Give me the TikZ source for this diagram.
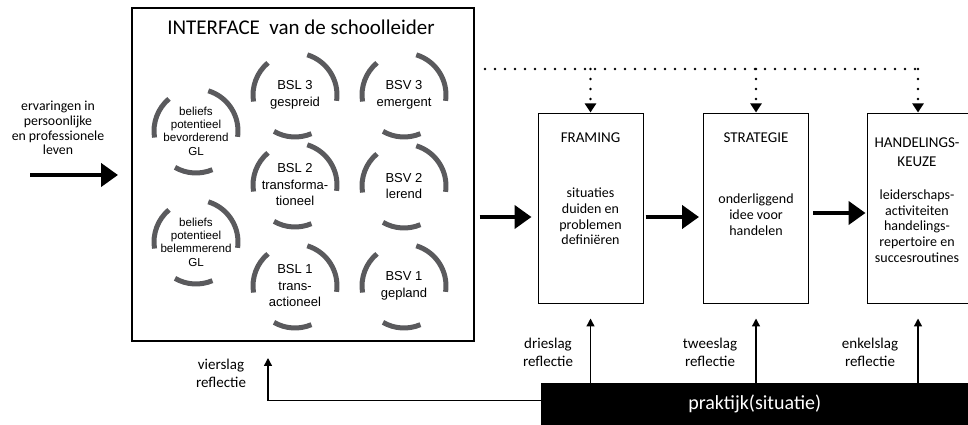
\documentclass[tikz,border=0pt]{standalone}
\usepackage{fontspec}
\setmainfont{Carlito}
\newfontfamily\arialf{Liberation Sans}
\usetikzlibrary{arrows.meta}
\definecolor{ringgray}{HTML}{5A5A5D}
\newcommand\ringarcs[1]{%
  \foreach \a/\b in {-8/73,130/189,240/293}{%
    \draw[ring] (#1.center) ++(\a:42) arc[start angle=\a,end angle=\b,radius=42];}}
\begin{document}
\begin{tikzpicture}[x=1pt,y=1pt,
  ring/.style={line width=5pt, draw=ringgray},
  circ/.style={circle, inner sep=0pt, minimum size=84pt, align=center},
  bigtext/.style={font=\arialf\fontsize{13}{16.5}\selectfont},
  smalltext/.style={font=\arialf\fontsize{11.6}{13.3}\selectfont},
  pbox/.style={draw, line width=1pt, minimum width=105pt, minimum height=190pt, inner sep=0pt},
  btitle/.style={font=\fontsize{15}{19}\selectfont, align=center},
  bbody/.style={font=\fontsize{14}{15.7}\selectfont, align=center},
  lab/.style={font=\fontsize{15}{18.5}\selectfont, align=center},
  big/.style={line width=4.5pt, -{Triangle[length=17pt,width=23pt]}},
  dots/.style={line width=2.6pt, line cap=round, dash pattern=on 0pt off 10pt},
  thinarrow/.style={line width=1.4pt, -{Triangle[length=8pt,width=8pt]}}
]
\useasboundingbox (0,0) rectangle (968,425);
\clip (0,0) rectangle (968,425);

% left input
\node[font=\fontsize{13.8}{14.7}\selectfont, align=center] (inp) at (58,297)
  {ervaringen in\\persoonlijke\\en professionele\\leven};

% interface box
\node[draw, line width=1.6pt, minimum width=342pt, minimum height=333pt,
  anchor=north west, inner sep=0pt] (iface) at (131,418) {};
\node[font=\fontsize{21}{24}\selectfont] (title) at (301,398) {INTERFACE\ \ van de schoolleider};

\node[circ, smalltext] (c1) at (196,294) {beliefs\\potentieel\\bevorderend\\GL};
\node[circ, smalltext] (c2) at (196,183) {beliefs\\potentieel\\belemmerend\\GL};
\node[circ, bigtext] (c3) at (295,330) {BSL 3\\gespreid};
\node[circ, bigtext] (c4) at (295,240) {BSL 2\\transforma-\\tioneel};
\node[circ, bigtext] (c5) at (295,139) {BSL 1\\trans-\\actioneel};
\node[circ, bigtext] (c6) at (404,330) {BSV 3\\emergent};
\node[circ, bigtext] (c7) at (404,239) {BSV 2\\lerend};
\node[circ, bigtext] (c8) at (404,139) {BSV 1\\gepland};
\foreach \c in {c1,c2,c3,c4,c5,c6,c7,c8}{\ringarcs{\c}}

% process boxes
\node[pbox] (fr) at (590.5,216) {};
\node[pbox] (st) at (756,216) {};
\node[pbox, minimum width=107pt] (hk) at (920.5,216) {};

\node[btitle] (frt) at (590.5,287) {FRAMING};
\node[bbody] (frb) at (590.5,208.5) {situaties\\duiden en\\problemen\\definiëren};
\node[btitle] (stt) at (756,287) {STRATEGIE};
\node[bbody] (stb) at (756,210.5) {onderliggend\\idee voor\\handelen};
\node[btitle] (hkt) at (917,272.5) {HANDELINGS-\\KEUZE};
\node[bbody] (hkb) at (917,199) {leiderschaps-\\activiteiten\\handelings-\\repertoire en\\succesroutines};

% thick arrows
\coordinate (inrow) at (30,250);
\coordinate (row) at (0,208);
\coordinate (row2) at (0,212);
\draw[big, shorten >=13pt] (inrow) -- (iface.west |- inrow);
\draw[big, shorten <=5pt, shorten >=6pt] (iface.east |- row) -- (fr.west |- row);
\draw[big, shorten <=2pt, shorten >=4pt] (fr.east |- row) -- (st.west |- row);
\draw[big, shorten <=4pt, shorten >=1pt] (st.east |- row2) -- (hk.west |- row2);

% dotted feedback
\coordinate (dl) at (485,356);
\coordinate (dr) at (918,356);
\draw[dots] (dl) -- (dr);
\draw[dots, -{Triangle[length=9pt,width=11pt]}, shorten >=1pt] (fr.north |- dl) -- (fr.north);
\draw[dots, -{Triangle[length=9pt,width=11pt]}, shorten >=1pt] (st.north |- dl) -- (st.north);
\draw[dots, -{Triangle[length=9pt,width=11pt]}, shorten >=1pt] (dr) -- (dr |- hk.north);

% praktijk
\node[fill=black, anchor=south west, minimum width=427pt, minimum height=42pt, inner sep=0pt,
  text=white, font=\fontsize{20}{22}\selectfont] (pr) at (541,0) {praktijk(situatie)};

\draw[thinarrow, shorten >=14pt] (pr.north -| fr.south) -- (fr.south);
\draw[thinarrow, shorten >=14pt] (pr.north -| st.south) -- (st.south);
\draw[thinarrow, shorten >=14pt] (pr.north -| dr) -- (dr |- hk.south);

\node[lab] (l1) at (548,72.5) {drieslag\\reflectie};
\node[lab] (l2) at (710,72.5) {tweeslag\\reflectie};
\node[lab] (l3) at (870,72.5) {enkelslag\\reflectie};

\coordinate (vk) at (268,67);
\draw[thinarrow] ([yshift=3pt]pr.west) -| (vk);
\node[lab, font=\fontsize{15}{18}\selectfont] (l4) at (221,51.5) {vierslag\\reflectie};
\end{tikzpicture}
\end{document}
